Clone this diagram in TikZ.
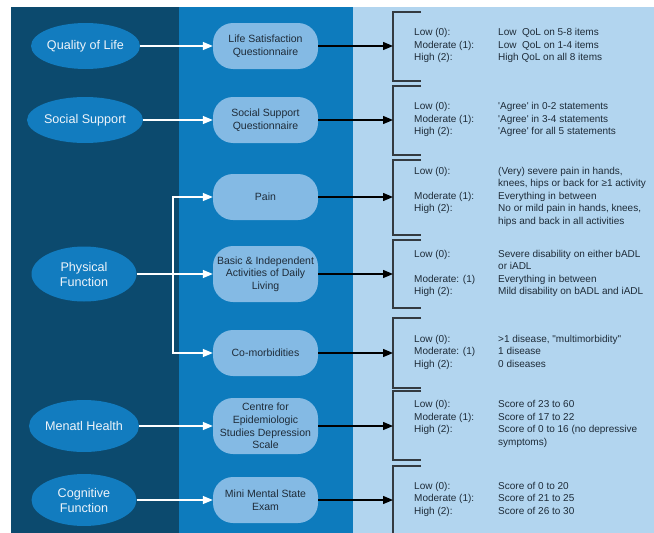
\documentclass[tikz,border=0pt]{standalone}
\usepackage{fontspec}
\setmainfont{Liberation Sans}
\usetikzlibrary{arrows.meta,shapes.geometric}
\definecolor{cdark}{HTML}{0C4A6E}
\definecolor{cmid}{HTML}{0D7BBD}
\definecolor{clight}{HTML}{B2D5EF}
\definecolor{cell}{HTML}{127CBF}
\definecolor{cbox}{HTML}{84BAE4}
\definecolor{ctxt}{HTML}{1E2B38}
\definecolor{cbr}{HTML}{333A40}
\definecolor{cwt}{HTML}{EEF4FA}
\begin{document}
\begin{tikzpicture}[x=1pt,y=-1pt,
 ell/.style={ellipse,fill=cell,minimum width=105pt,inner sep=0pt,text=cwt,align=center,font=\fontsize{12.6}{15}\selectfont},
 meas/.style={rounded corners=20pt,fill=cbox,minimum width=105pt,inner sep=0pt,text=ctxt,align=center,font=\fontsize{10.5}{12.7}\selectfont},
 warr/.style={draw=white,line width=1.4pt,-{Triangle[length=10pt,width=8pt]}},
 barr/.style={draw=black,line width=1.3pt,-{Triangle[length=10pt,width=8pt]}},
 brk/.style={draw=cbr,line width=1.5pt},
 cat/.style={anchor=west,inner sep=0pt,text=ctxt,font=\fontsize{10}{12.5}\selectfont}
]
\useasboundingbox[fill=white] (0,0) rectangle (654,533);
% panels
\fill[cdark] (11,7) rectangle (179,533);
\fill[cmid] (179,7) rectangle (353,533);
\fill[clight] (353,7) rectangle (654,533);

% concepts
\node[ell,minimum height=46pt] (e1) at (85.5,46) {Quality of Life};
\node[ell,minimum height=46pt] (e2) at (85,120) {Social Support};
\node[ell,minimum height=55pt] (e3) at (84,274) {Physical\\Function};
\node[ell,minimum height=52pt] (e4) at (84,426) {Menatl Health};
\node[ell,minimum height=52pt] (e5) at (84,500) {Cognitive\\Function};

% measures
\node[meas,minimum height=46pt] (b1) at (265.5,46) {Life Satisfaction\\Questionnaire};
\node[meas,minimum height=46pt] (b2) at (265.5,120) {Social Support\\Questionnaire};
\node[meas,minimum height=46pt] (b3) at (265.5,197) {Pain};
\node[meas,minimum height=56pt] (b4) at (265.5,274) {Basic \& Independent\\Activities of Daily\\Living};
\node[meas,minimum height=46pt] (b5) at (265.5,353) {Co-morbidities};
\node[meas,minimum height=56pt] (b6) at (265.5,426) {Centre for\\Epidemiologic\\Studies Depression\\Scale};
\node[meas,minimum height=46pt] (b7) at (265.5,500) {Mini Mental State\\Exam};

% white arrows
\draw[warr] (e1.east) -- (b1.west);
\draw[warr] (e2.east) -- (b2.west);
\draw[warr] (e3.east) -- (b4.west);
\coordinate (split) at (173,274);
\draw[warr] (split) |- (b3.west);
\draw[warr] (split) |- (b5.west);
\draw[warr] (e4.east) -- (b6.west);
\draw[warr] (e5.east) -- (b7.west);

% brackets
\draw[brk] (421,12) -- (393,12) -- (393,81) -- (421,81);
\draw[brk] (421,86) -- (393,86) -- (393,155) -- (421,155);
\draw[brk] (421,160) -- (393,160) -- (393,235) -- (421,235);
\draw[brk] (421,240) -- (393,240) -- (393,308) -- (421,308);
\draw[brk] (421,318) -- (393,318) -- (393,388) -- (421,388);
\draw[brk] (421,391) -- (393,391) -- (393,460) -- (421,460);
\draw[brk] (421,466) -- (393,466) -- (393,533);

\coordinate (k1) at (393,46);
\coordinate (k2) at (393,120);
\coordinate (k3) at (393,197);
\coordinate (k4) at (393,274);
\coordinate (k5) at (393,353);
\coordinate (k6) at (393,426);
\coordinate (k7) at (393,500);
\draw[barr] (b1.east) -- (k1);
\draw[barr] (b2.east) -- (k2);
\draw[barr] (b3.east) -- (k3);
\draw[barr] (b4.east) -- (k4);
\draw[barr] (b5.east) -- (k5);
\draw[barr] (b6.east) -- (k6);
\draw[barr] (b7.east) -- (k7);

% categories
\node[cat] (t1) at (414,45.5) {\begin{tabular}{@{}p{84pt}@{}l@{}}
Low (0): & Low\ \ QoL on 5-8 items\\
Moderate (1): & Low\ \ QoL on 1-4 items\\
High (2): & High QoL on all 8 items
\end{tabular}};
\node[cat] (t2) at (414,119.5) {\begin{tabular}{@{}p{84pt}@{}l@{}}
Low (0): & \textquotesingle Agree\textquotesingle{} in 0-2 statements\\
Moderate (1): & \textquotesingle Agree\textquotesingle{} in 3-4 statements\\
High (2): & \textquotesingle Agree\textquotesingle{} for all 5 statements
\end{tabular}};
\node[cat] (t3) at (414,196.5) {\begin{tabular}{@{}p{84pt}@{}l@{}}
Low (0): & (Very) severe pain in hands,\\
 & knees, hips or back for ≥1 activity\\
Moderate (1): & Everything in between\\
High (2): & No or mild pain in hands, knees,\\
 & hips and back in all activities
\end{tabular}};
\node[cat] (t4) at (414,273.5) {\begin{tabular}{@{}p{84pt}@{}l@{}}
Low (0): & Severe disability on either bADL\\
 & or iADL\\
Moderate: (1) & Everything in between\\
High (2): & Mild disability on bADL and iADL
\end{tabular}};
\node[cat] (t5) at (414,352) {\begin{tabular}{@{}p{84pt}@{}l@{}}
Low (0): & >1 disease, \textquotedbl multimorbidity\textquotedbl\\
Moderate: (1) & 1 disease\\
High (2): & 0 diseases
\end{tabular}};
\node[cat] (t6) at (414,424) {\begin{tabular}{@{}p{84pt}@{}l@{}}
Low (0): & Score of 23 to 60\\
Moderate (1): & Score of 17 to 22\\
High (2): & Score of 0 to 16 (no depressive\\
 & symptoms)
\end{tabular}};
\node[cat] (t7) at (414,499) {\begin{tabular}{@{}p{84pt}@{}l@{}}
Low (0): & Score of 0 to 20\\
Moderate (1): & Score of 21 to 25\\
High (2): & Score of 26 to 30
\end{tabular}};
\end{tikzpicture}
\end{document}
